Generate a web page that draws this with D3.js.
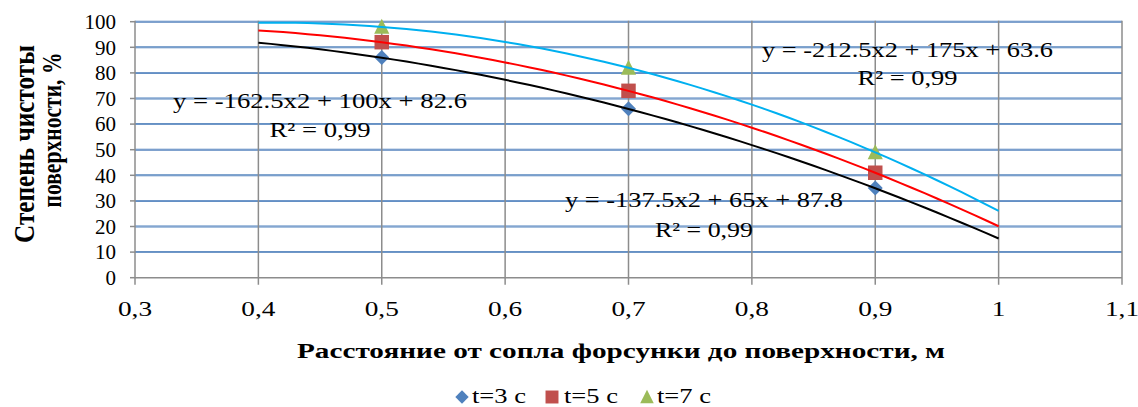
<!DOCTYPE html>
<html><head><meta charset="utf-8">
<script src="https://cdn.jsdelivr.net/npm/d3@7"></script>
<style>body{margin:0;background:#fff}svg{display:block}</style>
</head><body><svg id="c" width="1138" height="407" font-family="'Liberation Serif', 'Times New Roman', Times, serif"></svg>
<script>
const xValues = [0.5, 0.7, 0.9];
const seriesNames = ["t=3 c", "t=5 c", "t=7 c"];
const s3 = [86, 66, 35];
const s5 = [92, 73, 41];
const s7 = [98, 82, 49];
// trendline coefficients a, b, c for y = a x^2 + b x + c
const trend3 = [-137.5, 65, 87.8];
const trend5 = [-162.5, 100, 82.6];
const trend7 = [-212.5, 175, 63.6];
const trendRange = [0.4, 1.0];
const xTicks = [0.3, 0.4, 0.5, 0.6, 0.7, 0.8, 0.9, 1.0, 1.1];
const xTickLabels = ["0,3", "0,4", "0,5", "0,6", "0,7", "0,8", "0,9", "1", "1,1"];
const yTicks = [0, 10, 20, 30, 40, 50, 60, 70, 80, 90, 100];
const eqLabels = [
  ["y = -162.5x2 + 100x + 82.6", "R² = 0,99"],
  ["y = -212.5x2 + 175x + 63.6", "R² = 0,99"],
  ["y = -137.5x2 + 65x + 87.8", "R² = 0,99"]
];
const xTitle = "Расстояние от сопла форсунки до поверхности, м";
const yTitle = ["Степень чистоты", "поверхности, %"];

const svg = d3.select("#c");
const L = 135, R = 1122, T = 21.7, B = 277.7;
const x = d3.scaleLinear().domain([0.3, 1.1]).range([L, R]);
const y = d3.scaleLinear().domain([0, 100]).range([B, T]);

svg.append("g").selectAll("line").data(yTicks.filter(d => d > 0)).join("line")
  .attr("x1", L).attr("x2", R).attr("y1", d => y(d)).attr("y2", d => y(d))
  .attr("stroke", "#4F81BD").attr("stroke-width", 2);
svg.append("g").selectAll("line").data(yTicks.filter(d => d > 0)).join("line")
  .attr("x1", L).attr("x2", R).attr("y1", d => y(d)).attr("y2", d => y(d))
  .attr("stroke", "#A9C0DE").attr("stroke-width", 0.6);
svg.append("g").selectAll("line").data(xTicks).join("line")
  .attr("x1", d => x(d)).attr("x2", d => x(d)).attr("y1", T - 1).attr("y2", B + 7)
  .attr("stroke", "#8C8C8C").attr("stroke-width", 1.5);
svg.append("line").attr("x1", L).attr("x2", R).attr("y1", y(0)).attr("y2", y(0))
  .attr("stroke", "#8C8C8C").attr("stroke-width", 1.5);
svg.append("g").selectAll("line").data(yTicks).join("line")
  .attr("x1", L - 5).attr("x2", L).attr("y1", d => y(d)).attr("y2", d => y(d))
  .attr("stroke", "#8C8C8C").attr("stroke-width", 1.5);

svg.append("g").selectAll("text").data(yTicks).join("text")
  .attr("x", L - 19).attr("y", d => y(d)).attr("dy", "0.35em")
  .attr("text-anchor", "end").attr("font-size", 21).attr("fill", "#000").text(d => d);
svg.append("g").selectAll("text").data(xTicks).join("text")
  .attr("x", d => x(d)).attr("y", 316).attr("text-anchor", "middle")
  .attr("font-size", 21).attr("fill", "#000").text((d, i) => xTickLabels[i])
  .each(function () { const w = this.getComputedTextLength(); this.setAttribute("textLength", w * 1.3); this.setAttribute("lengthAdjust", "spacingAndGlyphs"); });

svg.append("text").attr("x", 621).attr("y", 358).attr("text-anchor", "middle")
  .attr("font-size", 20).attr("font-weight", "bold").attr("textLength", 648)
  .attr("lengthAdjust", "spacingAndGlyphs").text(xTitle);
svg.append("text").attr("transform", "translate(34,144) rotate(-90)")
  .attr("text-anchor", "middle").attr("font-size", 29).attr("font-weight", "bold")
  .attr("textLength", 198).attr("lengthAdjust", "spacingAndGlyphs").text(yTitle[0]);
svg.append("text").attr("transform", "translate(61,130) rotate(-90)")
  .attr("text-anchor", "middle").attr("font-size", 28).attr("font-weight", "bold")
  .attr("textLength", 155).attr("lengthAdjust", "spacingAndGlyphs").text(yTitle[1]);

const colors = ["#4F81BD", "#C0504D", "#9BBB59"];
const diamond = { draw(ctx, size) { const r = Math.sqrt(size / 2); ctx.moveTo(0, -r); ctx.lineTo(r, 0); ctx.lineTo(0, r); ctx.lineTo(-r, 0); ctx.closePath(); } };
const triangle = { draw(ctx, size) { const r = Math.sqrt(size) / 2; ctx.moveTo(0, -r * 1.07); ctx.lineTo(r, r * 0.93); ctx.lineTo(-r, r * 0.93); ctx.closePath(); } };
const symbols = [diamond, d3.symbolSquare, triangle];
const sizes = [112, 210, 230];
const allSeries = [s3, s5, s7];
allSeries.forEach((s, k) => {
  svg.append("g").selectAll("path").data(s).join("path")
    .attr("transform", (d, i) => `translate(${x(xValues[i])},${y(d)})`)
    .attr("d", d3.symbol().type(symbols[k]).size(sizes[k])())
    .attr("fill", colors[k]);
});

const trends = [trend3, trend5, trend7];
const trendColors = ["#000000", "#FF0000", "#00B0F0"];
const xs = d3.range(0, 61).map(i => trendRange[0] + i * (trendRange[1] - trendRange[0]) / 60);
const line = d3.line().x(d => x(d[0])).y(d => y(d[1]));
trends.forEach((c, k) => {
  const pts = xs.map(v => [v, c[0] * v * v + c[1] * v + c[2]]);
  svg.append("path").attr("d", line(pts)).attr("fill", "none")
    .attr("stroke", trendColors[k]).attr("stroke-width", 2);
});

const eqPos = [[320, 108, 137], [907.5, 57, 85], [704, 207, 237]];
const eqW = [[294, 101], [291, 100], [278, 98]];
eqLabels.forEach((lab, k) => {
  [0, 1].forEach(j => {
    svg.append("text").attr("text-anchor", "middle").attr("font-size", 22).attr("fill", "#000")
      .attr("x", eqPos[k][0]).attr("y", eqPos[k][1 + j])
      .attr("textLength", eqW[k][j]).attr("lengthAdjust", "spacingAndGlyphs").text(lab[j]);
  });
});

const lg = svg.append("g");
const legX = [462, 552, 647];
const legTX = [472, 564, 657];
seriesNames.forEach((n, k) => {
  lg.append("path").attr("transform", `translate(${legX[k]},${397})`)
    .attr("d", d3.symbol().type(symbols[k]).size(sizes[k] * 0.8)()).attr("fill", colors[k]);
  lg.append("text").attr("x", legTX[k]).attr("y", 403).attr("font-size", 21)
    .attr("textLength", 54).attr("lengthAdjust", "spacingAndGlyphs").text(n);
});
</script></body></html>
